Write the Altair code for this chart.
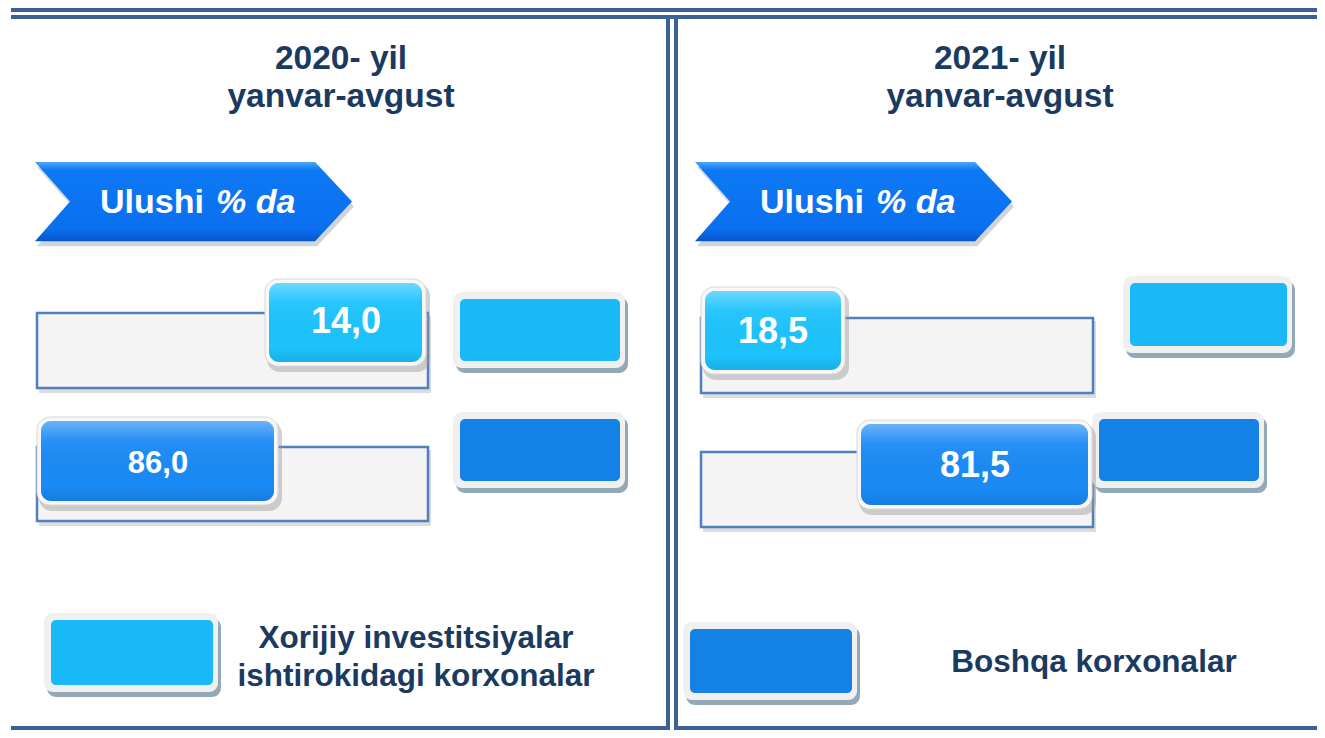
import altair as alt
import pandas as pd

# ---------------- data ----------------
years = ["2020- yil", "2021- yil"]
period = "yanvar-avgust"
banner_word = "Ulushi"
banner_unit = "% da"
categories = ["Xorijiy investitsiyalar ishtirokidagi korxonalar", "Boshqa korxonalar"]
legend_lines = [["Xorijiy investitsiyalar", "ishtirokidagi korxonalar"], ["Boshqa korxonalar"]]
share_2020 = [14.0, 86.0]
share_2021 = [18.5, 81.5]
shares = {years[0]: share_2020, years[1]: share_2021}

# ---------------- style ----------------
swatch_colors = ["#18B9F6", "#1481E6"]
box_colors = ["#1DC3FD", "#1A8AF5"]
navy = "#1A3A60"
rule_blue = "#3A6294"
FONT = "Liberation Sans"

# ---------------- layout (image pixel space) ----------------
W, H = 1309, 722
X0, Y0 = 8, 8
layout = {
    years[0]: dict(cx=341, banner=35,
                   track=[(37, 428, 313, 388), (37, 428, 447, 521)],
                   box=[(265, 426, 279, 366), (37, 278, 417, 505)],
                   label=[(346, 333, 36), (158, 473, 31)],
                   swatch=[(453, 628, 292, 373), (453, 628, 412, 493)]),
    years[1]: dict(cx=1000, banner=695,
                   track=[(701, 1093, 318, 393), (701, 1093, 452, 527)],
                   box=[(701, 845, 287, 374), (857, 1092, 420, 509)],
                   label=[(773, 343, 36), (975, 477, 36)],
                   swatch=[(1123, 1295, 276, 358), (1092, 1267, 412, 493)]),
}
legend_layout = [dict(swatch=(44, 221, 613, 697), cx=416, base=[648, 686]),
                 dict(swatch=(683, 860, 622, 705), cx=1094, base=[672])]
rules_layout = [(11, 1325, 8, 12), (11, 1325, 15, 19), (666, 670, 15, 730), (674, 678, 15, 730),
                (11, 670, 726, 730), (674, 1325, 726, 730)]

# ---------------- tables ----------------
rules = pd.DataFrame(rules_layout, columns=["x0", "x1", "y0", "y1"])
tracks, boxes, swatches, texts, banners = [], [], [], [], []
for yr in years:
    L = layout[yr]
    texts.append(dict(x=L["cx"], y=69, text=yr, fs=33.5))
    texts.append(dict(x=L["cx"], y=107, text=period, fs=33.5))
    banners.append(dict(x=L["banner"] + 158.5, y=201.5, tx=L["banner"] + 65, ux=L["banner"] + 181))
    for i, cat in enumerate(categories):
        x0, x1, y0, y1 = L["track"][i]
        tracks.append(dict(x0=x0, x1=x1, y0=y0, y1=y1))
        bx0, bx1, by0, by1 = L["box"][i]
        lx, ly, fs = L["label"][i]
        v = shares[yr][i]
        boxes.append(dict(x0=bx0, x1=bx1, y0=by0, y1=by1, category=cat,
                          label=f"{v:.1f}".replace(".", ","), lx=lx, ly=ly, fs=fs))
        sx0, sx1, sy0, sy1 = L["swatch"][i]
        swatches.append(dict(x0=sx0, x1=sx1, y0=sy0, y1=sy1, category=cat))
for i, cat in enumerate(categories):
    sx0, sx1, sy0, sy1 = legend_layout[i]["swatch"]
    swatches.append(dict(x0=sx0, x1=sx1, y0=sy0, y1=sy1, category=cat))
    for line, b in zip(legend_lines[i], legend_layout[i]["base"]):
        texts.append(dict(x=legend_layout[i]["cx"], y=b, text=line, fs=31.5))

tracks = pd.DataFrame(tracks)
boxes = pd.DataFrame(boxes)
swatches = pd.DataFrame(swatches)
texts = pd.DataFrame(texts)
banners = pd.DataFrame(banners)
banners["word"] = banner_word
banners["unit"] = banner_unit

def shifted(df, dx0, dx1, dy0, dy1):
    d = df.copy()
    d["x0"] += dx0; d["x1"] += dx1; d["y0"] += dy0; d["y1"] += dy1
    return d

xs = alt.Scale(domain=[X0, X0 + W], nice=False, zero=False)
ys = alt.Scale(domain=[Y0, Y0 + H], nice=False, zero=False, reverse=True)

def rect(df, **mark):
    return alt.Chart(df).mark_rect(**mark).encode(
        x=alt.X("x0:Q", scale=xs, axis=None), x2="x1:Q",
        y=alt.Y("y0:Q", scale=ys, axis=None), y2="y1:Q")

def text(df, xf, yf, tf, sizef=None, **mark):
    enc = dict(x=alt.X(f"{xf}:Q", scale=xs, axis=None),
               y=alt.Y(f"{yf}:Q", scale=ys, axis=None),
               text=alt.Text(f"{tf}:N"))
    if sizef:
        enc["size"] = alt.Size(f"{sizef}:Q", scale=None, legend=None)
    return alt.Chart(df).mark_text(font=FONT, fontWeight="bold", baseline="alphabetic", **mark).encode(**enc)

chevron = "M -1 -0.25 L 0.767 -0.25 L 1 0 L 0.767 0.25 L -1 0.25 L -0.779 0 Z"
banner_grad = alt.Gradient(gradient="linear", x1=0, y1=0, x2=0, y2=1, stops=[
    alt.GradientStop(color="#4FA6FB", offset=0),
    alt.GradientStop(color="#0E79F4", offset=0.1),
    alt.GradientStop(color="#0A6FF0", offset=0.85),
    alt.GradientStop(color="#0555CA", offset=1)])
highlight = alt.Gradient(gradient="linear", x1=0, y1=0, x2=0, y2=1, stops=[
    alt.GradientStop(color="rgba(255,255,255,0.35)", offset=0),
    alt.GradientStop(color="rgba(255,255,255,0.05)", offset=0.25),
    alt.GradientStop(color="rgba(0,0,0,0)", offset=0.8),
    alt.GradientStop(color="rgba(0,0,60,0.10)", offset=1)])

def banner_layer(dx, dy, **mark):
    d = banners.copy(); d["x"] += dx; d["y"] += dy
    return alt.Chart(d).mark_point(shape=chevron, filled=True, strokeWidth=0, opacity=1, **mark).encode(
        x=alt.X("x:Q", scale=xs, axis=None), y=alt.Y("y:Q", scale=ys, axis=None),
        size=alt.value(317 ** 2))

inner = boxes.copy()
inner["x0"] += 4; inner["x1"] -= 4; inner["y0"] += 4; inner["y1"] -= 4

layers = [
    rect(rules, color=rule_blue),
    rect(shifted(tracks, 2, 3, 3, 5), color="#C4C4C4", opacity=0.6),
    rect(tracks, fill="#F4F4F4", stroke="#5080BE", strokeWidth=2.5),
    banner_layer(2, 5, fill="#7A8899", fillOpacity=0.35),
    banner_layer(0, 0, fill=banner_grad),
    text(banners, "tx", "y", "word", color="white", fontSize=34, align="left", dy=11),
    text(banners, "ux", "y", "unit", color="white", fontSize=34, align="left", dy=11, fontStyle="italic"),
    text(texts, "x", "y", "text", sizef="fs", color=navy, align="center"),
    rect(shifted(swatches, 3, 0, 5, 0), color="#94A9B8", cornerRadius=9),
    rect(shifted(swatches, 0, -3, 0, -5), color="#F0F0F0", cornerRadius=9),
    rect(shifted(swatches, 7, -8, 7, -12), cornerRadius=5).encode(
        color=alt.Color("category:N", scale=alt.Scale(domain=categories, range=swatch_colors), legend=None)),
    rect(shifted(boxes, 2, 4, 4, 6), color="#9A9A9A", opacity=0.45, cornerRadius=13),
    rect(boxes, fill="#F7F7F7", stroke="#D8D8D8", strokeWidth=1, cornerRadius=13),
    rect(inner, cornerRadius=10).encode(
        fill=alt.Fill("category:N", scale=alt.Scale(domain=categories, range=box_colors), legend=None)),
    rect(inner, fill=highlight, cornerRadius=10),
    text(boxes, "lx", "ly", "label", sizef="fs", color="white", align="center"),
]

chart = alt.layer(*layers).properties(
    width=W, height=H, autosize=alt.AutoSizeParams(type="none"), padding=0
).configure_view(stroke=None)

chart.save("out.html", embed_options={"renderer": "svg", "actions": False})
